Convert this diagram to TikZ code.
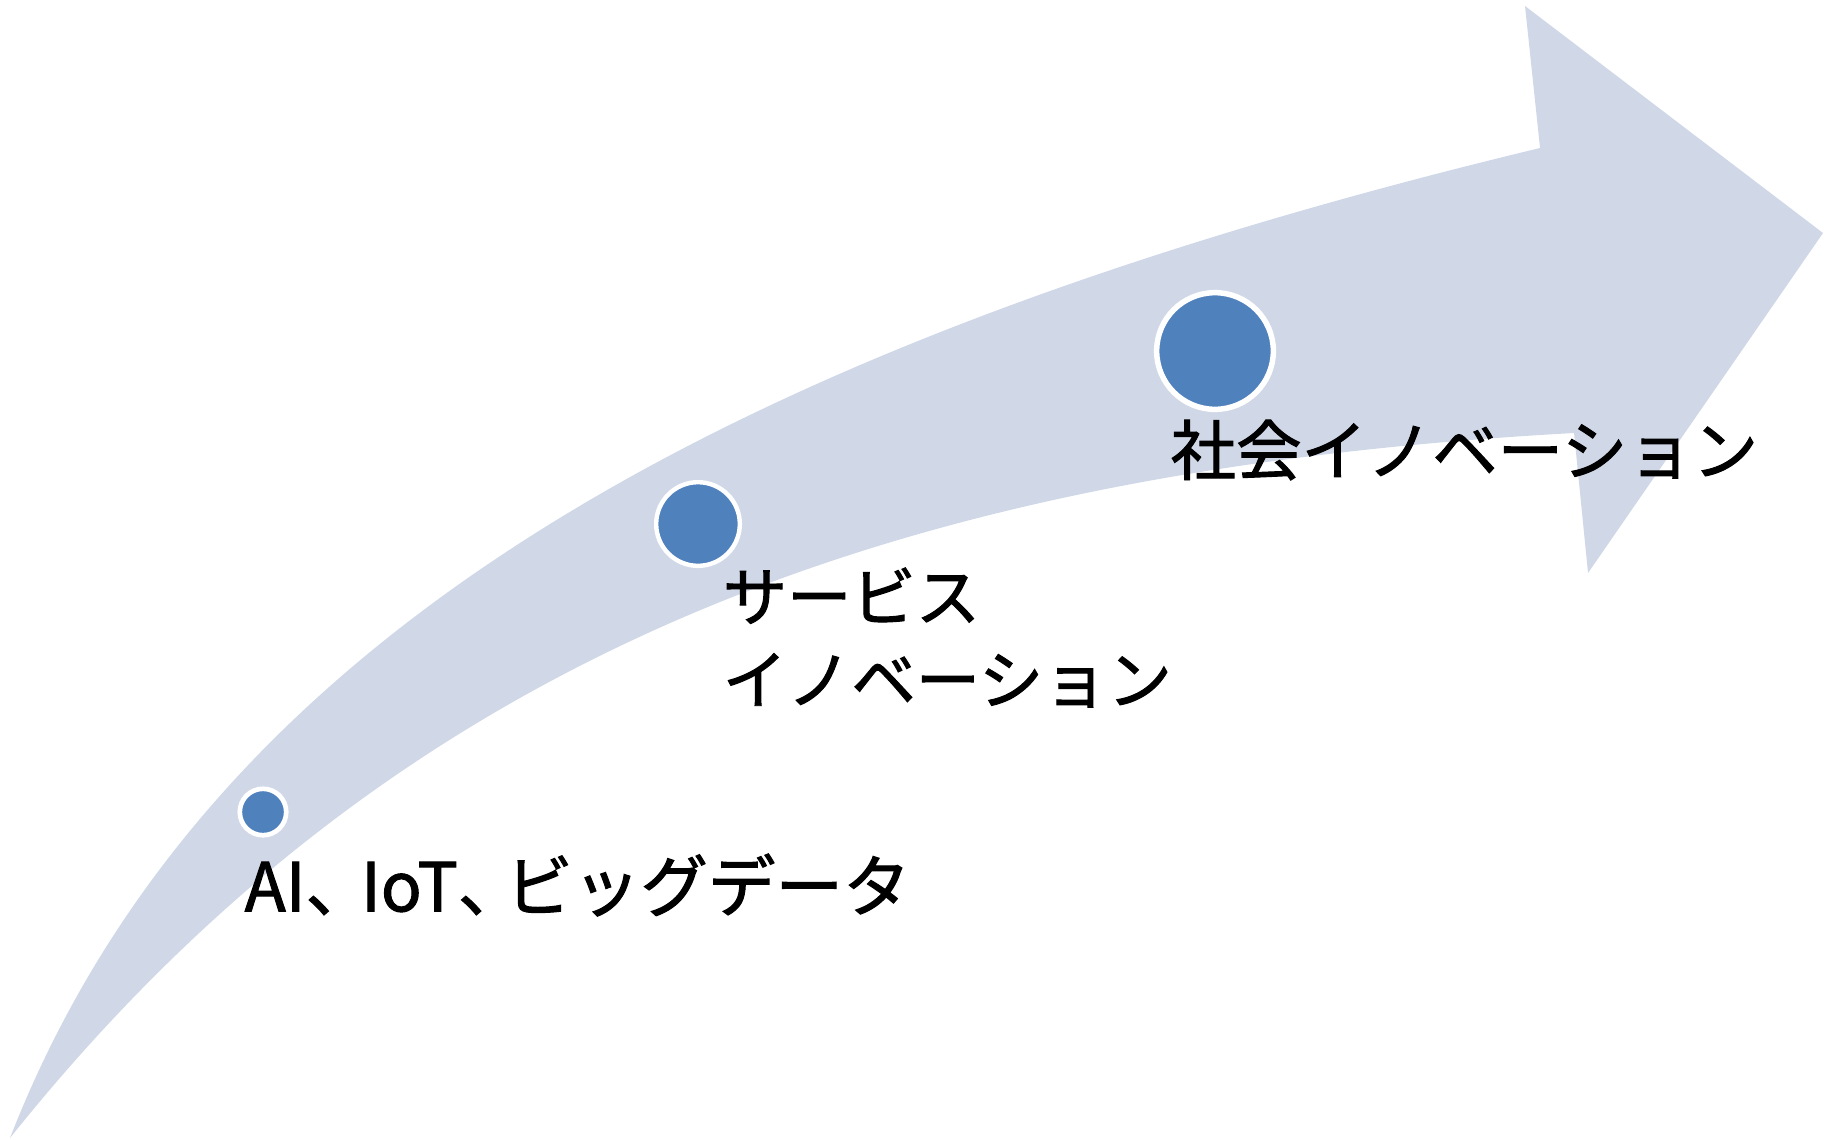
\documentclass[tikz,border=0pt]{standalone}
\usepackage{fontspec}
\newfontfamily\jpfont[FakeBold=1.5]{Noto Sans CJK JP}
\definecolor{band}{HTML}{D0D8E8}
\definecolor{dotblue}{HTML}{4F81BD}
\begin{document}
\begin{tikzpicture}[x=0.01cm,y=-0.01cm,
  dot/.style={circle,fill=dotblue,draw=white,inner sep=0pt},
  lbl/.style={font=\jpfont\fontsize{18.3}{23.6}\selectfont,inner sep=0pt,align=left}]
\useasboundingbox (0,0) rectangle (1825,1139);
\fill[band] (10,1138) .. controls (200,650) and (700,350) .. (1540,148)
  -- (1525,6) -- (1823,233) -- (1588,573) -- (1574,433)
  .. controls (900,470) and (400,650) .. (10,1138) -- cycle;
\node[dot,minimum size=0.464cm,line width=0.047cm] (d1) at (263,812) {};
\node[dot,minimum size=0.836cm,line width=0.044cm] (d2) at (698,524) {};
\node[dot,minimum size=1.166cm,line width=0.055cm] (d3) at (1215,351) {};
\node[lbl,anchor=west,font=\jpfont\fontsize{19.2}{23.6}\selectfont] (t1) at (244,885) {AI、\kern-0.12cm IoT、\kern-0.2cm ビッグデータ};
\node[lbl,anchor=north west] (t2) at (722,567) {サービス\\イノベーション};
\node[lbl,anchor=west,font=\jpfont\fontsize{18.6}{23.6}\selectfont] (t3) at (1170,450) {社会イノベーション};
\end{tikzpicture}
\end{document}
